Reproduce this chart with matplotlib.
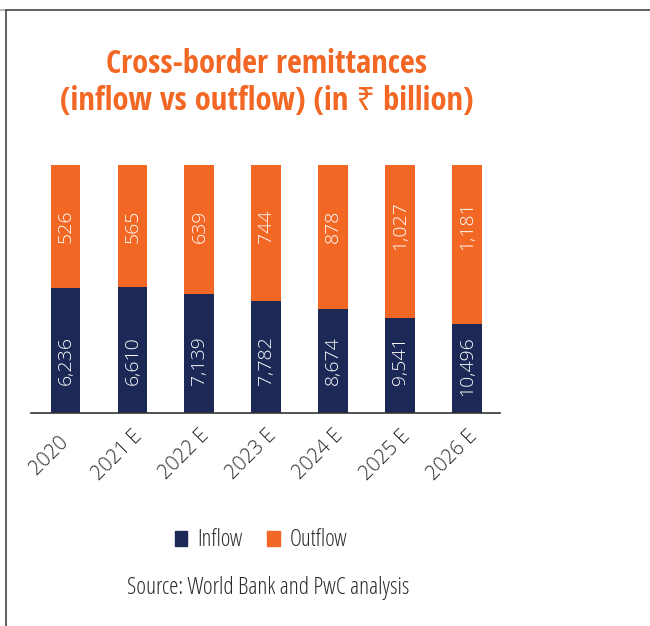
import matplotlib
matplotlib.use("Agg")
import matplotlib.pyplot as plt
import matplotlib.patches as mpatches
import matplotlib.transforms as mtransforms
from matplotlib.lines import Line2D
from matplotlib import font_manager as fm
from matplotlib.font_manager import FontProperties

# ---------------- data ----------------
years = ["2020", "2021 E", "2022 E", "2023 E", "2024 E", "2025 E", "2026 E"]
inflow = [6236, 6610, 7139, 7782, 8674, 9541, 10496]       # ₹ billion (labels)
outflow = [526, 565, 639, 744, 878, 1027, 1181]             # ₹ billion (labels)
# segment heights as drawn in the graphic (share of bar height, %)
inflow_drawn = [50.7, 51.1, 48.1, 45.3, 42.1, 38.5, 36.2]
outflow_drawn = [100 - v for v in inflow_drawn]

title = "Cross-border remittances\n(inflow vs outflow) (in ₹ billion)"
source = "Source: World Bank and PwC analysis"

NAVY = "#1C2855"
ORANGE = "#F36724"
TEXT = "#2B2B2B"

# ---------------- fonts ----------------
def path_of(fname_part):
    for f in fm.fontManager.ttflist:
        if f.fname.split("/")[-1] == fname_part:
            return f.fname
    return None

def name_of(fname_part, default):
    for f in fm.fontManager.ttflist:
        if f.fname.split("/")[-1] == fname_part:
            return f.name
    return default

cond_bold = name_of("OpenSans-CondBold.ttf", "Open Sans")
cond_light_path = path_of("OpenSans-CondLight.ttf")
light_path = path_of("OpenSans-Light.ttf")

def fp(path, size):
    if path:
        return FontProperties(fname=path, size=size)
    return FontProperties(family="Open Sans", size=size)

fig = plt.figure(figsize=(6.5, 6.26), dpi=100)
W, H = 650, 626
ax = fig.add_axes([31.3 / W, 1 - 413.3 / H, (500 - 31.3) / W, (413.3 - 165.5) / H])

x = list(range(len(years)))
ax.bar(x, inflow_drawn, width=0.444, color=NAVY, zorder=2)
ax.bar(x, outflow_drawn, bottom=inflow_drawn, width=0.444, color=ORANGE, zorder=2)

for i in x:
    ax.text(i, 31.2, f"{inflow[i]:,}", rotation=90, ha="center", va="top",
            color="white", fontproperties=fp(light_path, 14), zorder=3)
    ax.text(i, 75.6, f"{outflow[i]:,}", rotation=90, ha="center", va="center",
            color="white", fontproperties=fp(light_path, 14), zorder=3)

ax.set_xlim(-0.511, 6.495)
ax.set_ylim(0, 100)
ax.set_yticks([])
ax.set_xticks(x)
ax.set_xticklabels([])
ax.tick_params(axis="x", length=0)

# rotated category labels (anchored at the end of their baseline)
base = mtransforms.blended_transform_factory(ax.transData, ax.transAxes)
off = mtransforms.ScaledTranslation(11 / 100, -23.3 / 100, fig.dpi_scale_trans)
for i, lab in zip(x, years):
    txt = lab if lab.endswith("E") else lab + "  "
    ax.text(i, 0, txt, transform=base + off, rotation=45, rotation_mode="anchor",
            ha="right", va="baseline", color=TEXT, fontproperties=fp(light_path, 14.5),
            clip_on=False)

for s in ["top", "right", "left"]:
    ax.spines[s].set_visible(False)
ax.spines["bottom"].set_color("#333333")
ax.spines["bottom"].set_linewidth(1.2)

# title
fig.text(267 / W, 1 - 110 / H, title, ha="center", va="baseline", color=ORANGE,
         fontsize=23.5, fontweight="bold", linespacing=1.15,
         family=[cond_bold, "Noto Sans"])

# legend
handles = [mpatches.Patch(color=NAVY, label="Inflow"),
           mpatches.Patch(color=ORANGE, label="Outflow")]
leg = fig.legend(handles=handles, loc="center", bbox_to_anchor=(261 / W, 1 - 540.5 / H),
                 ncol=2, frameon=False, handlelength=0.54, handleheight=0.64,
                 handletextpad=0.42, columnspacing=1.1, prop=fp(cond_light_path, 16.5))
for t in leg.get_texts():
    t.set_color(TEXT)

# source
fig.text(268 / W, 1 - 594.3 / H, source, ha="center", va="baseline", color=TEXT,
         fontproperties=fp(cond_light_path, 16.8))

# frame lines
fig.add_artist(Line2D([6 / W, 1], [1 - 10 / H, 1 - 10 / H], color="#444444", lw=1.2))
fig.add_artist(Line2D([0, 6 / W], [1 - 10 / H, 1 - 10 / H], color="#AAAAAA", lw=1.2))
fig.add_artist(Line2D([6 / W, 6 / W], [0, 1 - 10 / H], color="#444444", lw=1.2))

fig.savefig("out.png", dpi=100)
